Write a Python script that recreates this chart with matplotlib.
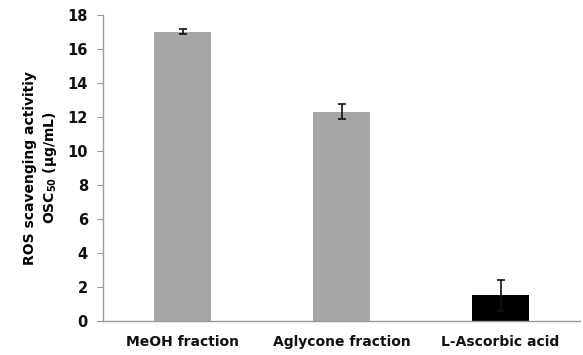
import matplotlib
matplotlib.use("Agg")
import matplotlib.pyplot as plt

categories = ["MeOH fraction", "Aglycone fraction", "L-Ascorbic acid"]
values = [17.0, 12.3, 1.5]
errors = [0.15, 0.45, 0.9]
colors = ["#A6A6A6", "#A6A6A6", "#000000"]

plt.rcParams['font.family'] = ['DejaVu Sans']

fig = plt.figure(figsize=(5.83, 3.55), dpi=100)
ax = fig.add_axes([0.177, 0.096, 0.818, 0.862])

x = range(len(categories))
ax.bar(x, values, width=0.36, color=colors, zorder=2)
ax.errorbar(x, values, yerr=errors, fmt='none', ecolor='#111111',
            elinewidth=1.2, capsize=3, capthick=1.2, zorder=3)

ax.set_xlim(-0.5, 2.5)
ax.set_ylim(0, 18)
ax.set_yticks(range(0, 19, 2))
ax.set_xticks(list(x))
ax.set_xticklabels(categories, fontsize=10, fontweight='bold', color='#111111')
ax.tick_params(axis='x', length=0, pad=10)
ax.tick_params(axis='y', direction='out', length=4, color='#999999',
               labelsize=10.5, pad=7)
for lab in ax.get_yticklabels():
    lab.set_fontweight('bold')
    lab.set_color('#111111')

for s in ['top', 'right']:
    ax.spines[s].set_visible(False)
for s in ['left', 'bottom']:
    ax.spines[s].set_color('#999999')
    ax.spines[s].set_linewidth(1.0)

ax.set_ylabel("ROS scavenging activitiy\nOSC$_{\\mathbf{50}}$ (\u03bcg/mL)",
              fontsize=10, fontweight='bold', labelpad=6, linespacing=1.3)

fig.savefig("out.png", dpi=100)
